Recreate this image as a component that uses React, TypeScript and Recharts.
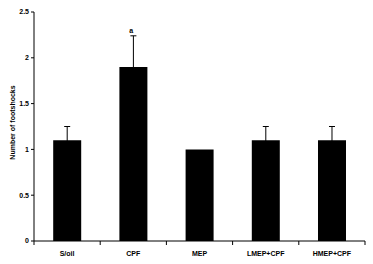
import { BarChart, Bar, XAxis, YAxis, ErrorBar, ReferenceDot } from 'recharts';

const groups = ['S/oil', 'CPF', 'MEP', 'LMEP+CPF', 'HMEP+CPF'];
const means = [1.1, 1.9, 1.0, 1.1, 1.1];
const errors = [0.15, 0.34, 0, 0.15, 0.15];
const yTicks = [0, 0.5, 1, 1.5, 2, 2.5];
const marks = ['', 'a', '', '', ''];

const data = groups.map((g, i) => ({ group: g, value: means[i], err: errors[i] }));

const W = 373;
const H = 264;
const margin = { top: 12, right: 8, left: 0, bottom: 0 };
const yAxisWidth = 34;
const catWidth = (W - margin.left - margin.right - yAxisWidth) / groups.length;

const font = '"Liberation Sans", Arial, sans-serif';

function XTick({ x, y, payload, index }: any) {
  const left = x - catWidth / 2;
  return (
    <g>
      <line x1={left} y1={y - 8} x2={left} y2={y - 4} stroke="#000" />
      {index === groups.length - 1 && (
        <line x1={x + catWidth / 2} y1={y - 8} x2={x + catWidth / 2} y2={y - 4} stroke="#000" />
      )}
      <text x={x} y={y + 7} textAnchor="middle" fontSize={7} fontWeight="bold" fontFamily={font} fill="#000">
        {payload.value}
      </text>
    </g>
  );
}

export default function App() {
  return (
    <div style={{ position: 'absolute', left: 0, top: 0, width: W, height: H, background: '#fff' }}>
      <BarChart width={W} height={H} data={data} margin={margin} barCategoryGap="29%">
        <XAxis
          dataKey="group"
          height={23}
          axisLine={{ stroke: '#000' }}
          tickLine={false}
          tick={<XTick />}
          interval={0}
        />
        <YAxis
          width={yAxisWidth}
          domain={[0, 2.5]}
          ticks={yTicks}
          axisLine={{ stroke: '#000' }}
          tickLine={{ stroke: '#000' }}
          tickSize={3}
          tick={{ fontSize: 7, fontWeight: 'bold', fontFamily: font, fill: '#000' }}
          tickFormatter={(v: number) => String(v)}
          label={{
            value: 'Number of footshocks',
            angle: -90,
            position: 'insideLeft',
            dx: 8,
            dy: -4,
            style: { fontSize: 7, fontWeight: 'bold', fontFamily: font, fill: '#000', textAnchor: 'middle' },
          }}
        />
        <Bar dataKey="value" fill="#000" isAnimationActive={false}>
          <ErrorBar dataKey="err" width={3} stroke="#000" strokeWidth={1} direction="y" />
        </Bar>
        {groups.map((g, i) =>
          marks[i] ? (
            <ReferenceDot
              key={g}
              x={g}
              y={means[i] + errors[i]}
              r={1}
              fill="none"
              stroke="none"
              label={{ value: marks[i], position: 'top', offset: 2, fontSize: 7, fontWeight: 'bold', fontFamily: font, fill: '#000', dx: -2 }}
            />
          ) : null
        )}
      </BarChart>
    </div>
  );
}
